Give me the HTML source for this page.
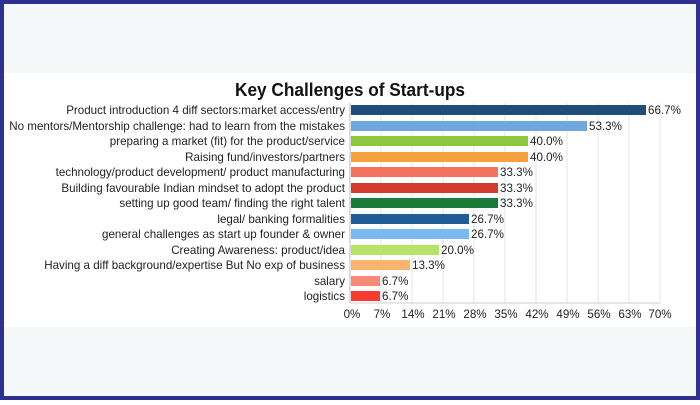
<!DOCTYPE html><html><head><style>body{margin:0}</style></head><body>
<svg width="700" height="400" xmlns="http://www.w3.org/2000/svg" font-family="Liberation Sans, sans-serif">
<rect width="700" height="400" fill="#2e3192"/>
<rect x="4" y="4" width="692" height="392" fill="#f5f8f8"/>
<rect x="4" y="73" width="692" height="254" fill="#fff"/>
<text x="350" y="96" text-anchor="middle" font-size="18" font-weight="bold" fill="#111" textLength="230" lengthAdjust="spacingAndGlyphs">Key Challenges of Start-ups</text>
<g stroke="#e3e3e3" stroke-width="1">
<line x1="381" y1="103" x2="381" y2="303"/><line x1="412" y1="103" x2="412" y2="303"/><line x1="443" y1="103" x2="443" y2="303"/><line x1="474" y1="103" x2="474" y2="303"/><line x1="505" y1="103" x2="505" y2="303"/><line x1="536" y1="103" x2="536" y2="303"/><line x1="567" y1="103" x2="567" y2="303"/><line x1="598" y1="103" x2="598" y2="303"/><line x1="629" y1="103" x2="629" y2="303"/><line x1="660" y1="103" x2="660" y2="303"/>
</g>
<line x1="350" y1="103" x2="350" y2="303" stroke="#bbb"/>
<line x1="350" y1="303" x2="660" y2="303" stroke="#ccc"/>
<g font-size="11.6" fill="#222">
<g text-anchor="end">
<text x="345" y="114">Product introduction 4 diff sectors:market access/entry</text>
<text x="345" y="130">No mentors/Mentorship challenge: had to learn from the mistakes</text>
<text x="345" y="145">preparing a market (fit) for the product/service</text>
<text x="345" y="161">Raising fund/investors/partners</text>
<text x="345" y="176">technology/product development/ product manufacturing</text>
<text x="345" y="192">Building favourable Indian mindset to adopt the product</text>
<text x="345" y="207">setting up good team/ finding the right talent</text>
<text x="345" y="223">legal/ banking formalities</text>
<text x="345" y="238">general challenges as start up founder &amp; owner</text>
<text x="345" y="254">Creating Awareness: product/idea</text>
<text x="345" y="269">Having a diff background/expertise But No exp of business</text>
<text x="345" y="285">salary</text>
<text x="345" y="300">logistics</text>
</g>
<rect x="351" y="105" width="295" height="10" fill="#1f4e79"/><text x="648" y="114">66.7%</text>
<rect x="351" y="121" width="236" height="10" fill="#6fa8dc"/><text x="589" y="130">53.3%</text>
<rect x="351" y="136" width="177" height="10" fill="#8dc63f"/><text x="530" y="145">40.0%</text>
<rect x="351" y="152" width="177" height="10" fill="#f7a140"/><text x="530" y="161">40.0%</text>
<rect x="351" y="167" width="147" height="10" fill="#f4735f"/><text x="500" y="176">33.3%</text>
<rect x="351" y="183" width="147" height="10" fill="#d23c2b"/><text x="500" y="192">33.3%</text>
<rect x="351" y="198" width="147" height="10" fill="#1a7a3a"/><text x="500" y="207">33.3%</text>
<rect x="351" y="214" width="118" height="10" fill="#1f5c99"/><text x="471" y="223">26.7%</text>
<rect x="351" y="229" width="118" height="10" fill="#79b8f0"/><text x="471" y="238">26.7%</text>
<rect x="351" y="245" width="88" height="10" fill="#b5e36a"/><text x="441" y="254">20.0%</text>
<rect x="351" y="260" width="59" height="10" fill="#fbb36e"/><text x="412" y="269">13.3%</text>
<rect x="351" y="276" width="29" height="10" fill="#f98a7a"/><text x="382" y="285">6.7%</text>
<rect x="351" y="291" width="29" height="10" fill="#f43c30"/><text x="382" y="300">6.7%</text>
<g text-anchor="middle">
<text x="352" y="318">0%</text><text x="382" y="318">7%</text><text x="413" y="318">14%</text><text x="444" y="318">21%</text><text x="475" y="318">28%</text><text x="506" y="318">35%</text><text x="537" y="318">42%</text><text x="568" y="318">49%</text><text x="599" y="318">56%</text><text x="630" y="318">63%</text><text x="660" y="318">70%</text>
</g></g>
</svg></body></html>
